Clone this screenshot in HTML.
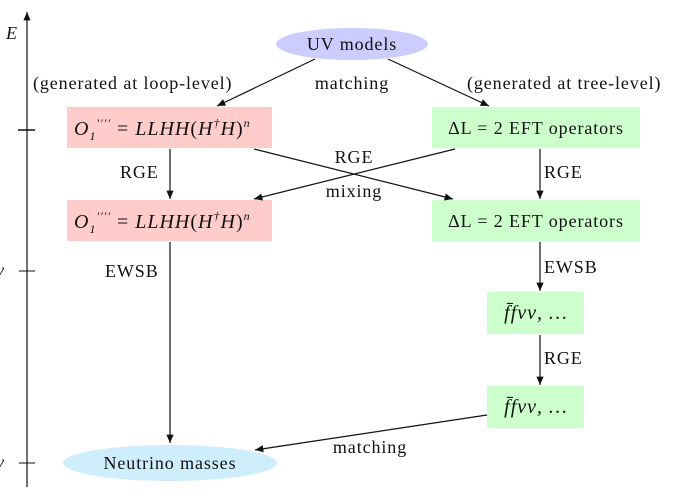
<!DOCTYPE html>
<html><head><meta charset="utf-8"><style>
body{margin:0;background:#fff}
svg{display:block}
text{font-family:"Liberation Serif",serif;font-size:18px;letter-spacing:0.9px;fill:#111}
.m{font-style:italic}
.f{font-size:20px;letter-spacing:1px}
</style></head><body>
<svg width="680" height="500" viewBox="0 0 680 500">
<defs><marker id="ar" markerWidth="8" markerHeight="8" refX="7" refY="4" orient="auto"><path d="M0,1 L7,4 L0,7 z" fill="#111"/></marker></defs>
<g>
<line x1="27" y1="487" x2="27" y2="12" stroke="#111" stroke-width="1.2" marker-end="url(#ar)"/>
<text x="6" y="39" class="m">E</text>
<line x1="18" y1="130" x2="35" y2="130" stroke="#111" stroke-width="1.5"/>
<line x1="19" y1="271" x2="35" y2="271" stroke="#111"/>
<line x1="19" y1="463" x2="35" y2="463" stroke="#111"/>
<text x="-4" y="276" class="m" fill="#555">v</text>
<text x="-4" y="468" class="m" fill="#555">v</text>
</g>
<ellipse cx="352" cy="44" rx="76" ry="16" fill="#ccccff"/>
<text x="352" y="50" text-anchor="middle">UV models</text>
<ellipse cx="170" cy="463" rx="107" ry="18" fill="#cdeefa"/>
<text x="170" y="469" text-anchor="middle">Neutrino masses</text>
<g><rect x="67" y="107" width="205" height="41" fill="#ffcccc"/>
<text x="74" y="135" class="m f">O<tspan font-size="12" dy="5">1</tspan><tspan font-size="12" dy="-13">′′′′</tspan><tspan dy="8" font-style="normal"> = </tspan>LLHH<tspan font-style="normal">(</tspan>H<tspan font-size="12" dy="-8">†</tspan><tspan dy="8">H</tspan><tspan font-style="normal">)</tspan><tspan font-size="12" dy="-8">n</tspan></text></g>
<g><rect x="67" y="200" width="205" height="41" fill="#ffcccc"/>
<text x="74" y="228" class="m f">O<tspan font-size="12" dy="5">1</tspan><tspan font-size="12" dy="-13">′′′′</tspan><tspan dy="8" font-style="normal"> = </tspan>LLHH<tspan font-style="normal">(</tspan>H<tspan font-size="12" dy="-8">†</tspan><tspan dy="8">H</tspan><tspan font-style="normal">)</tspan><tspan font-size="12" dy="-8">n</tspan></text></g>
<g><rect x="432" y="107" width="208" height="41" fill="#ccffcc"/>
<text x="536" y="134" text-anchor="middle">ΔL = 2 EFT operators</text></g>
<g><rect x="432" y="200" width="208" height="41" fill="#ccffcc"/>
<text x="536" y="227" text-anchor="middle">ΔL = 2 EFT operators</text></g>
<g><rect x="487" y="292" width="97" height="42" fill="#ccffcc"/>
<text x="536" y="319" text-anchor="middle" class="m f">f̄fνν, …</text></g>
<g><rect x="487" y="386" width="97" height="42" fill="#ccffcc"/>
<text x="536" y="413" text-anchor="middle" class="m f">f̄fνν, …</text></g>
<g stroke="#111" stroke-width="1.2" fill="none">
<line x1="315" y1="59" x2="217" y2="106" marker-end="url(#ar)"/>
<line x1="388" y1="59" x2="489" y2="106" marker-end="url(#ar)"/>
<line x1="170" y1="149" x2="170" y2="199" marker-end="url(#ar)"/>
<line x1="540" y1="149" x2="540" y2="199" marker-end="url(#ar)"/>
<line x1="254" y1="149" x2="453" y2="199" marker-end="url(#ar)"/>
<line x1="455" y1="149" x2="254" y2="199" marker-end="url(#ar)"/>
<line x1="170" y1="242" x2="170" y2="443" marker-end="url(#ar)"/>
<line x1="540" y1="242" x2="540" y2="291" marker-end="url(#ar)"/>
<line x1="540" y1="335" x2="540" y2="385" marker-end="url(#ar)"/>
<line x1="487" y1="415" x2="255" y2="450" marker-end="url(#ar)"/>
</g>
<text x="33" y="89">(generated at loop-level)</text>
<text x="352" y="89" text-anchor="middle">matching</text>
<text x="467" y="89">(generated at tree-level)</text>
<text x="120" y="178">RGE</text>
<text x="544" y="178">RGE</text>
<text x="354" y="163" text-anchor="middle">RGE</text>
<text x="354" y="197" text-anchor="middle">mixing</text>
<text x="105" y="277">EWSB</text>
<text x="544" y="273">EWSB</text>
<text x="544" y="364">RGE</text>
<text x="370" y="453" text-anchor="middle">matching</text>
</svg>
</body></html>
